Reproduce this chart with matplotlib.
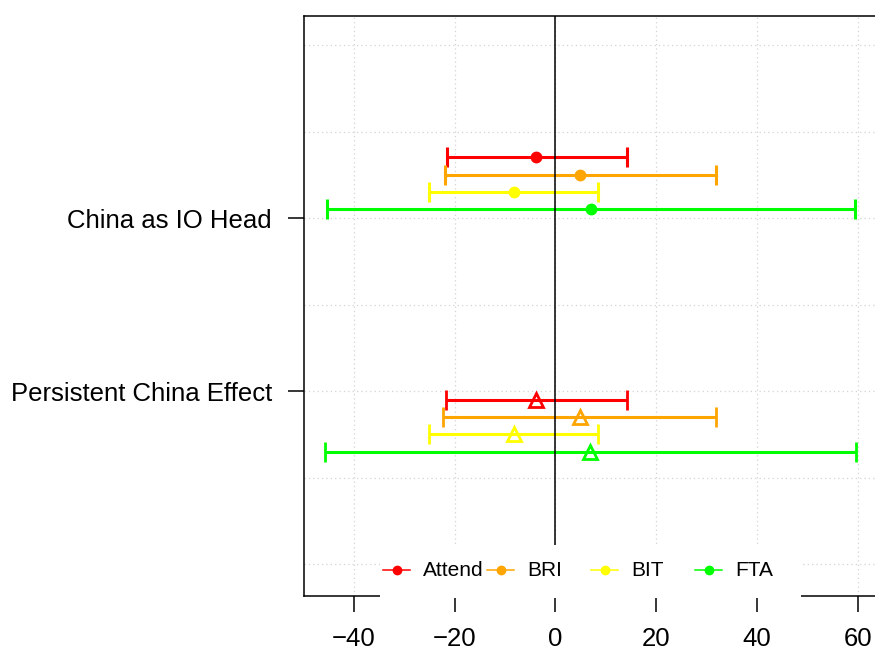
import matplotlib
matplotlib.use("Agg")
import matplotlib.pyplot as plt
from matplotlib.lines import Line2D
from matplotlib.patches import Rectangle

plt.rcParams['font.family'] = ['Liberation Sans', 'DejaVu Sans']

# Outcome models (legend order) and their colours
models = ["Attend", "BRI", "BIT", "FTA"]
colors = ["#FF0000", "#FFA500", "#FFFF00", "#00FF00"]

# Row labels on the y axis
row_labels = ["Persistent China Effect", "China as IO Head"]
row_pos = [1, 2]

# China as IO Head: estimates with lower / upper bounds
io_est = [-3.8, 4.9, -8.3, 7.0]
io_lo = [-21.6, -22.0, -25.0, -45.3]
io_hi = [14.2, 31.9, 8.5, 59.4]
io_y = [2.35, 2.25, 2.15, 2.05]

# Persistent China Effect: estimates with lower / upper bounds
pe_est = [-3.8, 4.9, -8.3, 6.9]
pe_lo = [-21.7, -22.3, -25.1, -45.8]
pe_hi = [14.2, 31.9, 8.5, 59.6]
pe_y = [0.95, 0.85, 0.75, 0.65]

x_ticks = [-40, -20, 0, 20, 40, 60]
grid_y = [0, 0.5, 1.0, 1.5, 2.0, 2.5, 3.0]

W, H = 875, 653
fig = plt.figure(figsize=(W / 100, H / 100), dpi=100)
ax_l, ax_r, ax_t, ax_b = 304, 877, 16, 596
ax = fig.add_axes([ax_l / W, 1 - ax_b / H, (ax_r - ax_l) / W, (ax_b - ax_t) / H])

ax.set_xlim(-49.9, 63.8)
ax.set_ylim(-0.185, 3.168)

# dotted background grid
grid_kw = dict(color="#D3D3D3", lw=0.9, linestyle=(0, (1, 2.5)), zorder=1)
for gx in x_ticks:
    ax.axvline(gx, **grid_kw)
for gy in grid_y:
    ax.axhline(gy, **grid_kw)

bar_kw = dict(lw=2.2, capsize=7, capthick=2.2, linestyle="none", zorder=3)
for est, lo, hi, y, c in zip(io_est, io_lo, io_hi, io_y, colors):
    ax.errorbar([est], [y], xerr=[[est - lo], [hi - est]], color=c, ecolor=c,
                marker="o", markersize=7.5, **bar_kw)
for est, lo, hi, y, c in zip(pe_est, pe_lo, pe_hi, pe_y, colors):
    ax.errorbar([est], [y], xerr=[[est - lo], [hi - est]], color=c, ecolor=c,
                marker="^", markersize=10, markerfacecolor="none",
                markeredgewidth=2.0, **bar_kw)

# reference line at zero
ax.axvline(0, color="black", lw=1.1, zorder=4)

ax.set_xticks(x_ticks)
ax.set_yticks(row_pos)
ax.set_yticklabels(row_labels)
ax.tick_params(axis="both", labelsize=18.5, length=11.5, width=1.1, color="black")
ax.tick_params(axis="y", pad=11.5)
ax.tick_params(axis="x", pad=11)
for s in ax.spines.values():
    s.set_linewidth(1.1)
    s.set_zorder(2.5)

# legend across the bottom of the panel
def fx(px):
    return (px - ax_l) / (ax_r - ax_l)

def fy(py):
    return (ax_b - py) / (ax_b - ax_t)

box = Rectangle((fx(380), fy(597.5)), fx(801) - fx(380), fy(545) - fy(597.5),
                transform=ax.transAxes, facecolor="white", edgecolor="none",
                zorder=6, clip_on=False)
ax.add_patch(box)
start, step = 383, 104
for i, (name, c) in enumerate(zip(models, colors)):
    x0 = start + i * step
    ax.add_line(Line2D([fx(x0), fx(x0 + 27)], [fy(570), fy(570)], color=c, lw=1.1,
                       transform=ax.transAxes, zorder=7, clip_on=False))
    ax.add_line(Line2D([fx(x0 + 13.5)], [fy(570)], color=c, marker="o", markersize=6,
                       transform=ax.transAxes, zorder=7, clip_on=False))
    ax.text(fx(x0 + 40), fy(571), name, transform=ax.transAxes, fontsize=15,
            ha="left", va="center", zorder=8)

fig.savefig("out.png", dpi=100)
